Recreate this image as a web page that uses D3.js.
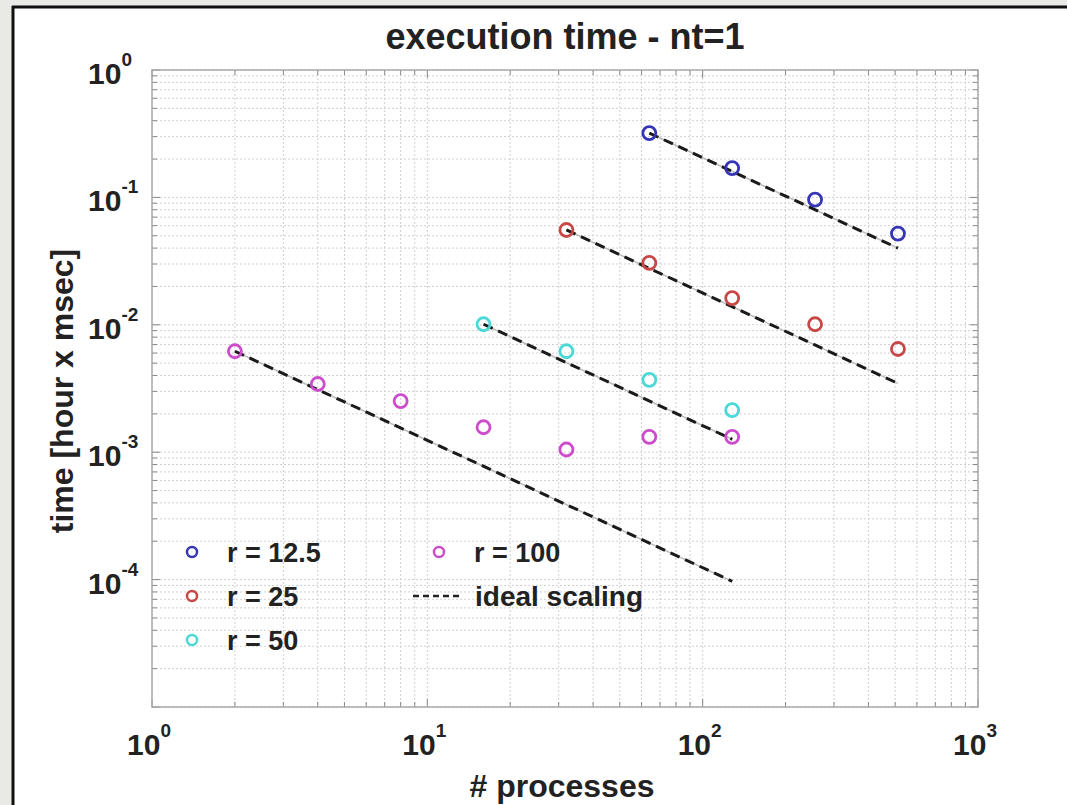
<!DOCTYPE html>
<html lang="en">
<head>
	<meta charset="UTF-8"/>
	<title>execution time - nt=1</title>
	<script src="https://d3js.org/d3.v7.min.js"></script>
	<style>
		body { margin:0; background:#fff; }
		svg text { font-family:"Liberation Sans", Arial, sans-serif; font-weight:bold; fill:#222; }
	</style>
</head>
<body>
	<script>
		// data
		var procs12 = [64,128,256,512];
		var time12  = [0.32,0.17,0.096,0.052];
		var procs25 = [32,64,128,256,512];
		var time25  = [0.0555,0.0306,0.0162,0.0101,0.00646];
		var procs50 = [16,32,64,128];
		var time50  = [0.0101,0.0062,0.0037,0.00214];
		var procs100 = [2,4,8,16,32,64,128];
		var time100  = [0.0062,0.00343,0.00252,0.00157,0.00105,0.00132,0.00132];

		var seriesNames  = ["r = 12.5","r = 25","r = 50","r = 100"];
		var seriesColors = ["#3535b8","#c84848","#4ad8d8","#cc4ccc"];
		var xTicks = [1,10,100,1000];
		var yTicks = [1e-4,1e-3,1e-2,1e-1,1];

		var series = [
			{name:seriesNames[0], color:seriesColors[0], x:procs12, y:time12},
			{name:seriesNames[1], color:seriesColors[1], x:procs25, y:time25},
			{name:seriesNames[2], color:seriesColors[2], x:procs50, y:time50},
			{name:seriesNames[3], color:seriesColors[3], x:procs100, y:time100}
		];

		var w = 1067, h = 805;
		var padL = 152, padR = 978, padT = 70, padB = 707;

		var svg = d3.select("body").append("svg").attr("width",w).attr("height",h);

		// frame of the screenshot
		svg.append("rect").attr("x",0).attr("y",0).attr("width",w).attr("height",6).attr("fill","#e9e9e6");
		svg.append("rect").attr("x",0).attr("y",0).attr("width",12).attr("height",h).attr("fill","#e9e9e6");
		svg.append("line").attr("x1",12).attr("x2",w).attr("y1",7).attr("y2",7).attr("stroke","#111").attr("stroke-width",3);
		svg.append("line").attr("x1",13).attr("x2",13).attr("y1",6).attr("y2",h).attr("stroke","#111").attr("stroke-width",3);

		var xScale = d3.scaleLog().domain([1,1000]).range([padL,padR]);
		var yScale = d3.scaleLog().domain([1e-5,1]).range([padB,padT]);

		// minor + major grid values
		var xGrid = [], yGrid = [];
		[1,10,100].forEach(function(d){ for (var i=1;i<10;i++) xGrid.push(d*i); });
		xGrid.push(1000);
		[1e-5,1e-4,1e-3,1e-2,1e-1].forEach(function(d){ for (var i=1;i<10;i++) yGrid.push(d*i); });
		yGrid.push(1);

		var grid = svg.append("g");
		grid.selectAll("line.vx").data(xGrid).enter().append("line")
			.attr("x1",function(d){ return xScale(d); })
			.attr("x2",function(d){ return xScale(d); })
			.attr("y1",padT).attr("y2",padB)
			.attr("stroke","#d0d0d0").attr("stroke-width",1).attr("stroke-dasharray","2,2");
		grid.selectAll("line.hy").data(yGrid).enter().append("line")
			.attr("y1",function(d){ return yScale(d); })
			.attr("y2",function(d){ return yScale(d); })
			.attr("x1",padL).attr("x2",padR)
			.attr("stroke","#d0d0d0").attr("stroke-width",1).attr("stroke-dasharray","2,2");

		// ticks inside the box
		function isMajor(d){ return Math.abs(Math.log10(d) - Math.round(Math.log10(d))) < 1e-9; }
		var axX = svg.append("g");
		axX.selectAll("line.b").data(xGrid).enter().append("line")
			.attr("x1",function(d){ return xScale(d); }).attr("x2",function(d){ return xScale(d); })
			.attr("y1",padB).attr("y2",function(d){ return padB-(isMajor(d)?8:5); })
			.attr("stroke","#888");
		axX.selectAll("line.t").data(xGrid).enter().append("line")
			.attr("x1",function(d){ return xScale(d); }).attr("x2",function(d){ return xScale(d); })
			.attr("y1",padT).attr("y2",function(d){ return padT+(isMajor(d)?8:5); })
			.attr("stroke","#888");
		var axY = svg.append("g");
		axY.selectAll("line.l").data(yGrid).enter().append("line")
			.attr("y1",function(d){ return yScale(d); }).attr("y2",function(d){ return yScale(d); })
			.attr("x1",padL).attr("x2",function(d){ return padL+(isMajor(d)?8:5); })
			.attr("stroke","#888");
		axY.selectAll("line.r").data(yGrid).enter().append("line")
			.attr("y1",function(d){ return yScale(d); }).attr("y2",function(d){ return yScale(d); })
			.attr("x1",padR).attr("x2",function(d){ return padR-(isMajor(d)?8:5); })
			.attr("stroke","#888");

		svg.append("rect").attr("x",padL).attr("y",padT)
			.attr("width",padR-padL).attr("height",padB-padT)
			.attr("fill","none").attr("stroke","#aaa").attr("stroke-width",1.5);

		// tick labels 10^n
		xTicks.forEach(function(d){
			var t = svg.append("text").attr("x",xScale(d)-3).attr("y",755)
				.attr("font-size","30px").attr("text-anchor","middle");
			t.append("tspan").text("10");
			t.append("tspan").attr("dy",-18).attr("font-size","19px").text(Math.round(Math.log10(d)));
		});
		yTicks.forEach(function(d){
			var t = svg.append("text").attr("x",88).attr("y",yScale(d)+14)
				.attr("font-size","30px");
			t.append("tspan").text("10");
			t.append("tspan").attr("dy",-18).attr("font-size","19px").text(Math.round(Math.log10(d)));
		});

		// ideal scaling lines: first point divided by process ratio
		var line = d3.line().x(function(d){ return xScale(d[0]); }).y(function(d){ return yScale(d[1]); });
		series.forEach(function(s){
			var x0 = s.x[0], y0 = s.y[0], x1 = s.x[s.x.length-1];
			var pts = [[x0,y0],[x1,y0*x0/x1]];
			svg.append("path").datum(pts)
				.attr("d",line).attr("fill","none")
				.attr("stroke","#bbb").attr("stroke-width",1.5);
			svg.append("path").datum(pts)
				.attr("d",line).attr("fill","none")
				.attr("stroke","#1a1a1a").attr("stroke-width",3).attr("stroke-dasharray","10,6");
		});

		// markers
		series.forEach(function(s){
			svg.append("g").selectAll("circle").data(s.x).enter().append("circle")
				.attr("cx",function(d){ return xScale(d); })
				.attr("cy",function(d,i){ return yScale(s.y[i]); })
				.attr("r",6.5)
				.attr("fill","none").attr("stroke",s.color).attr("stroke-width",2.8);
		});

		// legend
		var legPos = [[192,552],[192,596],[192,640],[439,552]];
		series.forEach(function(s,i){
			svg.append("circle").attr("cx",legPos[i][0]).attr("cy",legPos[i][1]).attr("r",5)
				.attr("fill","none").attr("stroke",s.color).attr("stroke-width",2.5);
			svg.append("text").attr("x",legPos[i][0]+35).attr("y",legPos[i][1]+10)
				.attr("font-size","27px").text(s.name);
		});
		svg.append("line").attr("x1",413).attr("x2",463).attr("y1",596).attr("y2",596)
			.attr("stroke","#222").attr("stroke-width",2.5).attr("stroke-dasharray","6,4");
		svg.append("text").attr("x",475).attr("y",606).attr("font-size","28px").text("ideal scaling");

		// titles
		svg.append("text").attr("x",(padL+padR)/2).attr("y",49).attr("text-anchor","middle")
			.attr("font-size","36px").text("execution time - nt=1");
		svg.append("text").attr("x",(padL+padR)/2 - 3).attr("y",797).attr("text-anchor","middle")
			.attr("font-size","32px").text("# processes");
		svg.append("text").attr("transform","translate(73,391) rotate(-90)").attr("text-anchor","middle")
			.attr("font-size","32px").text("time [hour x msec]");
	</script>
</body>
</html>
